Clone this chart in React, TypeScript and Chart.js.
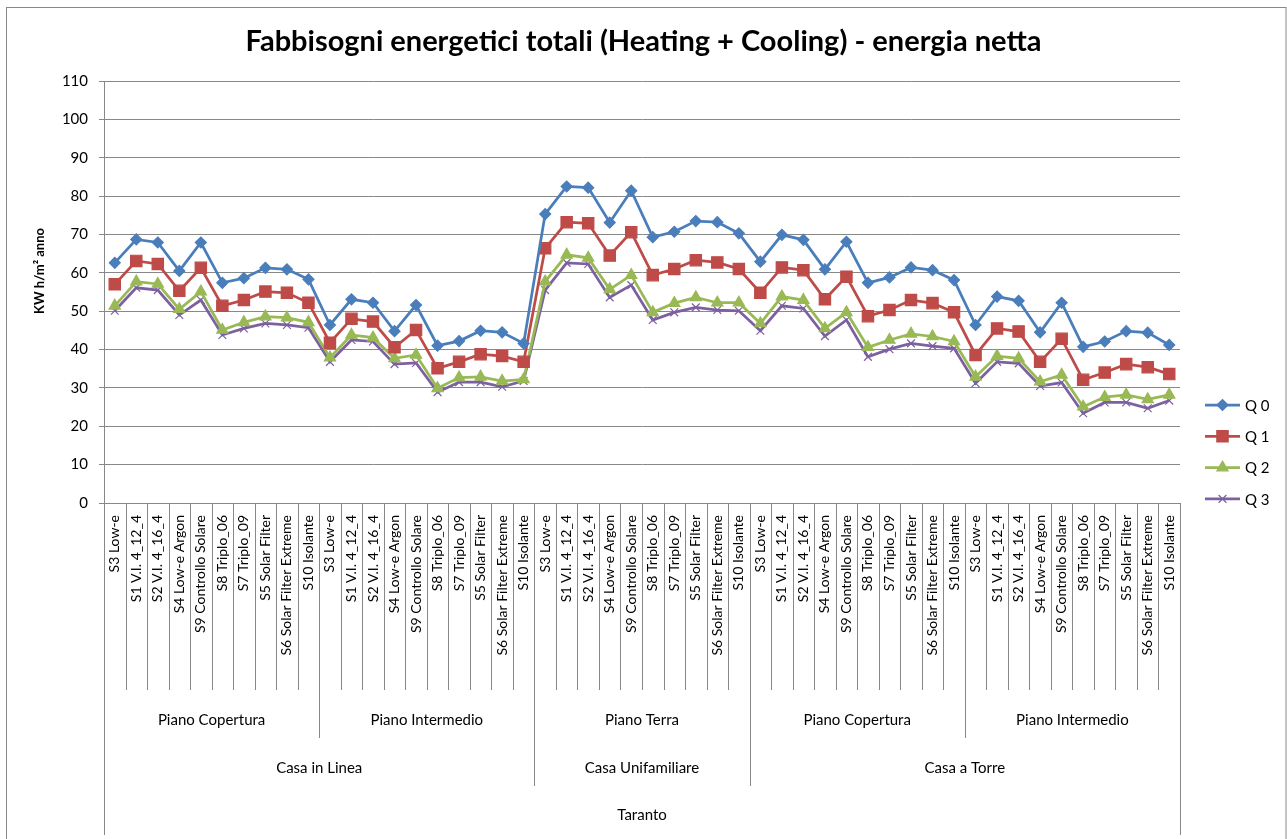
import React, { useEffect, useRef } from "react";
import { Chart, registerables } from "chart.js";
import { drawPoint } from "chart.js/helpers";

Chart.register(...registerables);

const TITLE = "Fabbisogni energetici totali (Heating + Cooling) - energia netta";
const Y_TITLE = "KW h/m² anno";

const glazing = [
  "S3 Low-e",
  "S1 V.I. 4_12_4",
  "S2 V.I. 4_16_4",
  "S4 Low-e Argon",
  "S9 Controllo Solare",
  "S8 Triplo_06",
  "S7 Triplo_09",
  "S5 Solar Filter",
  "S6 Solar Filter Extreme",
  "S10 Isolante",
];
const floors = ["Piano Copertura", "Piano Intermedio", "Piano Terra", "Piano Copertura", "Piano Intermedio"];
const buildings = ["Casa in Linea", "Casa Unifamiliare", "Casa a Torre"];
const buildingFloorCounts = [2, 1, 2];
const city = "Taranto";
const categories = floors.flatMap(() => glazing);

const yTicks = [0, 10, 20, 30, 40, 50, 60, 70, 80, 90, 100, 110];

const q0 = [
  62.6, 68.7, 67.9, 60.5, 67.9, 57.4, 58.6, 61.3, 60.9, 58.3,
  46.4, 53.1, 52.2, 44.8, 51.6, 41.0, 42.2, 44.9, 44.5, 41.6,
  75.3, 82.5, 82.2, 73.1, 81.4, 69.3, 70.7, 73.5, 73.2, 70.3,
  62.9, 69.9, 68.6, 60.9, 68.1, 57.4, 58.8, 61.4, 60.7, 58.1,
  46.4, 53.8, 52.7, 44.5, 52.2, 40.7, 42.1, 44.8, 44.4, 41.2,
];
const q1 = [
  57.0, 63.1, 62.3, 55.3, 61.3, 51.4, 52.9, 55.1, 54.8, 52.2,
  41.8, 48.0, 47.3, 40.6, 45.1, 35.1, 36.8, 38.8, 38.3, 36.8,
  66.4, 73.2, 72.9, 64.5, 70.6, 59.4, 61.0, 63.3, 62.7, 61.0,
  54.8, 61.4, 60.7, 53.1, 59.0, 48.7, 50.3, 52.9, 52.1, 49.7,
  38.6, 45.5, 44.7, 36.8, 42.8, 32.1, 34.0, 36.2, 35.4, 33.6,
];
const q2 = [
  51.4, 57.7, 57.1, 50.5, 55.1, 45.1, 47.1, 48.6, 48.3, 47.1,
  37.9, 43.8, 43.1, 37.7, 38.6, 29.9, 32.7, 32.9, 31.8, 32.2,
  57.7, 64.7, 63.9, 55.7, 59.4, 49.7, 52.1, 53.6, 52.2, 52.2,
  46.8, 53.8, 52.9, 45.5, 49.7, 40.6, 42.5, 44.1, 43.4, 42.1,
  32.9, 38.3, 37.7, 31.6, 33.4, 25.1, 27.6, 28.2, 27.0, 28.2,
];
const q3 = [
  50.1, 56.1, 55.5, 49.0, 52.9, 43.8, 45.5, 46.8, 46.4, 45.7,
  36.8, 42.5, 42.1, 36.2, 36.5, 28.9, 31.5, 31.5, 30.3, 31.8,
  55.5, 62.6, 62.3, 53.6, 56.8, 47.7, 49.7, 51.0, 50.3, 50.1,
  44.9, 51.4, 50.7, 43.5, 47.7, 38.1, 40.1, 41.6, 40.9, 40.3,
  31.2, 36.8, 36.4, 30.5, 31.4, 23.4, 26.2, 26.2, 24.7, 26.7,
];

const seriesNames = ["Q 0", "Q 1", "Q 2", "Q 3"];
const seriesData = [q0, q1, q2, q3];
const seriesColors = ["#4A7EBB", "#BE4B48", "#98B954", "#7D60A0"];
const seriesMarkers = ["rectRot", "rect", "triangle", "crossRot"];
const seriesRadius = [5.5, 8, 6.5, 5.5];

const GRID = "#888888";
const FONT = "Lato";

const decorPlugin = {
  id: "decor",
  beforeDraw(chart: any) {
    const ctx = chart.ctx;
    ctx.save();
    ctx.strokeStyle = GRID;
    ctx.lineWidth = 1;
    ctx.strokeRect(6.5, 7.5, chart.width - 7.5, chart.height + 20);
    ctx.restore();
  },
  afterDraw(chart: any) {
    const ctx = chart.ctx;
    const xs = chart.scales.x;
    const n = categories.length;
    const half = (xs.getPixelForValue(1) - xs.getPixelForValue(0)) / 2;
    const edge = (i: number) =>
      i < n ? xs.getPixelForValue(i) - half : xs.getPixelForValue(n - 1) + half;
    const top = xs.top;
    const L1 = top + 187, L2 = top + 235, L3 = top + 283, L4 = top + 332;

    const buildingEdges: number[] = [0];
    let acc = 0;
    buildingFloorCounts.forEach((c) => { acc += c * glazing.length; buildingEdges.push(acc); });

    ctx.save();
    ctx.strokeStyle = GRID;
    ctx.lineWidth = 1;
    for (let i = 0; i <= n; i++) {
      let bottom = L1;
      if (i === 0 || i === n) bottom = L4;
      else if (buildingEdges.includes(i)) bottom = L3;
      else if (i % glazing.length === 0) bottom = L2;
      const x = Math.round(edge(i)) + 0.5;
      ctx.beginPath();
      ctx.moveTo(x, top);
      ctx.lineTo(x, bottom);
      ctx.stroke();
    }

    ctx.fillStyle = "#000";
    ctx.textAlign = "center";
    ctx.textBaseline = "middle";
    ctx.font = `15px ${FONT}`;
    floors.forEach((f, k) => {
      const cx = (edge(k * glazing.length) + edge((k + 1) * glazing.length)) / 2;
      ctx.fillText(f, cx, top + 217);
    });
    buildings.forEach((b, k) => {
      const cx = (edge(buildingEdges[k]) + edge(buildingEdges[k + 1])) / 2;
      ctx.fillText(b, cx, top + 265);
    });
    ctx.fillText(city, (edge(0) + edge(n)) / 2, top + 312);

    ctx.save();
    ctx.font = `bold 13px ${FONT}`;
    ctx.translate(40, 271);
    ctx.rotate(-Math.PI / 2);
    ctx.fillText(Y_TITLE, 0, 0);
    ctx.restore();

    const lx0 = 1205, lx1 = 1240, ly0 = 405, ldy = 31.3;
    seriesNames.forEach((name, k) => {
      const y = ly0 + k * ldy;
      ctx.strokeStyle = seriesColors[k];
      ctx.lineWidth = 2.75;
      ctx.beginPath();
      ctx.moveTo(lx0, y);
      ctx.lineTo(lx1, y);
      ctx.stroke();
      ctx.fillStyle = seriesColors[k];
      ctx.strokeStyle = seriesColors[k];
      ctx.lineWidth = 1.2;
      drawPoint(ctx, { pointStyle: seriesMarkers[k], radius: seriesRadius[k], rotation: 0, borderWidth: 1.2 } as any, (lx0 + lx1) / 2, y);
      ctx.fillStyle = "#000";
      ctx.textAlign = "left";
      ctx.font = `15px ${FONT}`;
      ctx.fillText(name, 1245, y + 1);
    });
    ctx.restore();
  },
};

export default function App() {
  const ref = useRef<HTMLCanvasElement | null>(null);
  useEffect(() => {
    document.body.style.margin = "0";
    const canvas = ref.current!;
    const chart = new Chart(canvas, {
      type: "line",
      data: {
        labels: categories,
        datasets: seriesNames.map((name, k) => ({
          label: name,
          data: seriesData[k],
          borderColor: seriesColors[k],
          backgroundColor: seriesColors[k],
          borderWidth: 2.75,
          pointStyle: seriesMarkers[k] as any,
          pointRadius: seriesRadius[k],
          pointBackgroundColor: seriesColors[k],
          pointBorderColor: seriesColors[k],
          pointBorderWidth: 1.2,
          tension: 0,
          fill: false,
        })),
      },
      options: {
        responsive: false,
        animation: false,
        layout: { padding: 0 },
        plugins: {
          legend: { display: false },
          tooltip: { enabled: false },
          title: {
            display: true,
            text: TITLE,
            color: "#000",
            font: { family: FONT, size: 29, weight: "bold", lineHeight: 1.2 },
            padding: { top: 24.6, bottom: 21.6 },
          },
        },
        scales: {
          x: {
            type: "category",
            offset: true,
            grid: { display: false },
            border: { display: true, color: GRID, width: 1 },
            ticks: {
              autoSkip: false,
              minRotation: 90,
              maxRotation: 90,
              padding: 4,
              color: "#000",
              font: { family: FONT, size: 14 },
            },
            afterFit: (s: any) => { s.height = 336; },
          },
          y: {
            min: 0,
            max: 110,
            afterBuildTicks: (s: any) => { s.ticks = yTicks.map((v) => ({ value: v })); },
            grid: { color: GRID, lineWidth: 1, drawTicks: true, tickLength: 5 },
            border: { display: true, color: GRID, width: 1 },
            ticks: { padding: 11, color: "#000", font: { family: FONT, size: 15 } },
            afterFit: (s: any) => { s.width = 104; },
          },
          legendSpace: {
            type: "linear",
            position: "right",
            display: true,
            grid: { display: false, drawTicks: false },
            border: { display: false },
            ticks: { display: false },
            afterFit: (s: any) => { s.width = 107; },
          },
        },
      },
      plugins: [decorPlugin],
    });
    return () => chart.destroy();
  }, []);
  return (
    <div style={{ width: 1287, height: 839 }}>
      <canvas ref={ref} width={1287} height={839} style={{ display: "block" }} />
    </div>
  );
}
